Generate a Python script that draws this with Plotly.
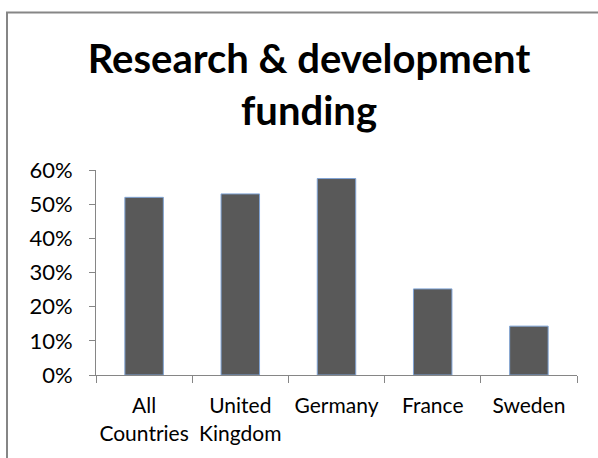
import plotly.graph_objects as go

categories = ["All<br>Countries", "United<br>Kingdom", "Germany", "France", "Sweden"]
values = [0.52, 0.53, 0.575, 0.252, 0.143]
y_ticks = [0, 0.1, 0.2, 0.3, 0.4, 0.5, 0.6]
title_text = "Research & development<br>funding"

FONT = "Lato"
AXIS_COLOR = "#868686"

fig = go.Figure(
    go.Bar(
        x=categories,
        y=values,
        marker=dict(color="#595959", line=dict(color="#7FA3D4", width=1)),
        width=0.4,
    )
)

W, H = 598, 458
L, R, T, B = 96, 21, 170, 83
pw, ph = W - L - R, H - T - B

def px_x(p):
    return (p - L) / pw

def px_y(p):
    return (H - B - p) / ph

fig.update_layout(
    width=W,
    height=H,
    autosize=False,
    margin=dict(l=L, r=R, t=T, b=B, autoexpand=False),
    paper_bgcolor="white",
    plot_bgcolor="white",
    showlegend=False,
    title=dict(
        text=title_text,
        font=dict(family=FONT, size=40, color="black", weight="bold"),
        xref="container",
        x=309 / W,
        xanchor="center",
        yref="container",
        y=1 - 73 / H,
        yanchor="top",
    ),
    xaxis=dict(
        type="category",
        automargin=False,
        showline=True,
        linecolor=AXIS_COLOR,
        linewidth=1,
        ticks="outside",
        tickson="boundaries",
        ticklen=7,
        tickcolor=AXIS_COLOR,
        tickangle=0,
        tickfont=dict(family=FONT, size=21, color="black"),
        ticklabelstandoff=12,
        showgrid=False,
    ),
    yaxis=dict(
        range=[0, 0.6],
        automargin=False,
        tickvals=y_ticks,
        tickformat=".0%",
        showline=True,
        linecolor=AXIS_COLOR,
        linewidth=1,
        ticks="outside",
        ticklen=6,
        tickcolor=AXIS_COLOR,
        tickfont=dict(family=FONT, size=22, color="black"),
        ticklabelstandoff=12,
        showgrid=False,
        zeroline=False,
    ),
    shapes=[
        dict(
            type="rect",
            xref="paper",
            yref="paper",
            x0=px_x(7),
            x1=px_x(W + 20),
            y0=px_y(H + 20),
            y1=px_y(12.5),
            line=dict(color="#868686", width=2),
            fillcolor="rgba(0,0,0,0)",
            layer="below",
        )
    ],
)

fig.write_html(
    "out.html",
    config={"displayModeBar": False},
    post_script="document.body.style.margin='0px';document.body.style.overflow='hidden';",
)
